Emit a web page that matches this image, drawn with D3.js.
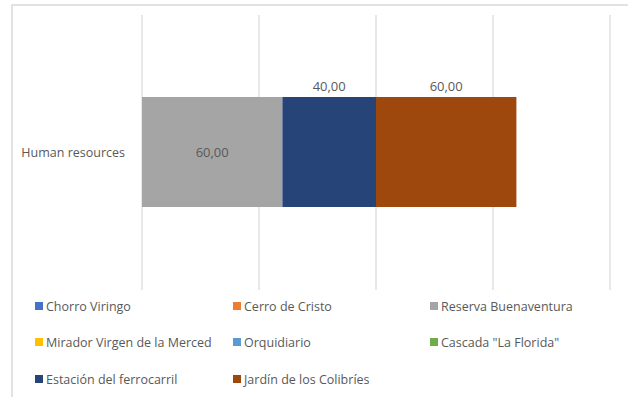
<!DOCTYPE html>
<html>
<head>
<meta charset="utf-8">
<script src="https://cdn.jsdelivr.net/npm/d3@7"></script>
<style>
  html, body { margin: 0; padding: 0; background: #fff; }
  svg { display: block; }
  text { font-family: "Open Sans", "Noto Sans", sans-serif; fill: #595959; }
</style>
</head>
<body>
<svg id="chart" width="628" height="397"></svg>
<script>
// Category and series
const categories = ["Human resources"];
const seriesNames = [
  "Chorro Viringo", "Cerro de Cristo", "Reserva Buenaventura",
  "Mirador Virgen de la Merced", "Orquidiario", "Cascada \"La Florida\"",
  "Estación del ferrocarril", "Jardín de los Colibríes"
];
const seriesValues = [0, 0, 60, 0, 0, 0, 40, 60];
const seriesColors = [
  "#4472C4", "#ED7D31", "#A5A5A5", "#FFC000",
  "#5B9BD5", "#70AD47", "#264478", "#9E480E"
];
// label placement per series: inside the segment or above it
const labelPlacement = ["none", "none", "inside", "none", "none", "none", "above", "above"];
const xTicks = [0, 50, 100, 150, 200];

const svg = d3.select("#chart");
const W = 628, H = 397;

// chart frame
svg.append("path")
  .attr("d", `M12,${H} L12,5 L${W},5`)
  .attr("fill", "none")
  .attr("stroke", "#D9D9D9")
  .attr("stroke-width", 1.5);

const x = d3.scaleLinear().domain([0, 200]).range([142, 610]);
const y = d3.scaleBand().domain(categories).range([97, 207]).padding(0);

// vertical gridlines
svg.append("g").selectAll("line")
  .data(xTicks).join("line")
  .attr("x1", d => x(d)).attr("x2", d => x(d))
  .attr("y1", 15).attr("y2", 290)
  .attr("stroke", "#D9D9D9").attr("stroke-width", 1.2);

// stacked segments
const rows = categories.map(c => {
  const r = { category: c };
  seriesNames.forEach((s, i) => r[s] = seriesValues[i]);
  return r;
});
const stacked = d3.stack().keys(seriesNames)(rows);

const seg = svg.append("g");
stacked.forEach((layer, i) => {
  layer.forEach(d => {
    if (d[1] - d[0] <= 0) return;
    seg.append("rect")
      .attr("x", x(d[0]))
      .attr("y", y(d.data.category))
      .attr("width", x(d[1]) - x(d[0]))
      .attr("height", y.bandwidth())
      .attr("fill", seriesColors[i]);
  });
});

// value labels
stacked.forEach((layer, i) => {
  layer.forEach(d => {
    const v = d[1] - d[0];
    if (v <= 0 || labelPlacement[i] === "none") return;
    const cx = (x(d[0]) + x(d[1])) / 2;
    const top = y(d.data.category);
    const cy = labelPlacement[i] === "inside" ? top + y.bandwidth() / 2 + 5 : top - 6;
    svg.append("text")
      .attr("x", cx).attr("y", cy)
      .attr("text-anchor", "middle")
      .attr("font-size", 13)
      .text(d3.format(".2f")(v).replace(".", ","));
  });
});

// category axis label
svg.append("g").selectAll("text")
  .data(categories).join("text")
  .attr("x", 125)
  .attr("y", d => y(d) + y.bandwidth() / 2 + 5)
  .attr("text-anchor", "end")
  .attr("font-size", 12.5)
  .text(d => d);

// legend
const colX = [35, 233, 430];
const rowY = [306, 342, 379];
const leg = svg.append("g");
seriesNames.forEach((s, i) => {
  const cx = colX[i % 3], cy = rowY[Math.floor(i / 3)];
  leg.append("rect")
    .attr("x", cx).attr("y", cy - 4)
    .attr("width", 8).attr("height", 8)
    .attr("fill", seriesColors[i]);
  leg.append("text")
    .attr("x", cx + 11).attr("y", cy + 5)
    .attr("font-size", 12.5)
    .text(s);
});
</script>
</body>
</html>
